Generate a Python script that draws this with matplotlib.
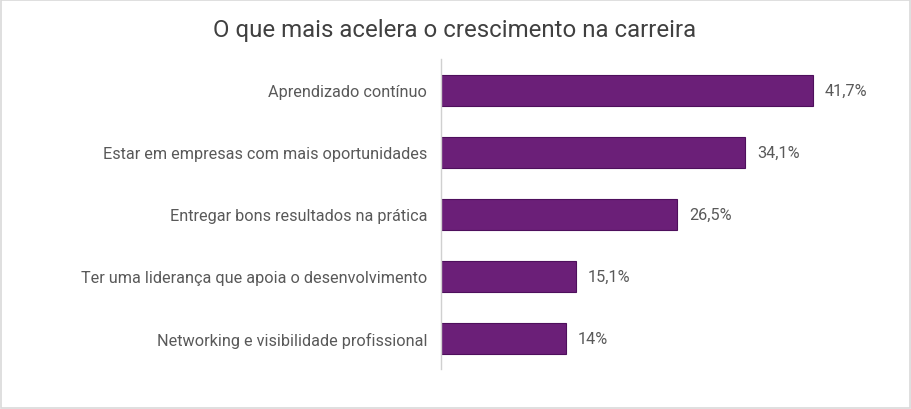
import matplotlib.pyplot as plt
from matplotlib.patches import Rectangle

plt.rcParams["font.family"] = ["Roboto", "DejaVu Sans"]

# -------------------------
# Data
# -------------------------
categories = [
    "Aprendizado contínuo",
    "Estar em empresas com mais oportunidades",
    "Entregar bons resultados na prática",
    "Ter uma liderança que apoia o desenvolvimento",
    "Networking e visibilidade profissional",
]
values = [41.7, 34.1, 26.5, 15.1, 14.0]
value_labels = ["41,7%", "34,1%", "26,5%", "15,1%", "14%"]

# -------------------------
# Plot
# -------------------------
fig = plt.figure(figsize=(9.12, 4.10), dpi=100)
ax = fig.add_axes([441 / 912, 40 / 410, 428 / 912, 310 / 410])

y = list(range(len(categories)))
ax.barh(y, values, height=0.5, color="#6B1F78", edgecolor="#4E0F5C", linewidth=0.8)

ax.set_ylim(len(categories) - 0.5, -0.5)
ax.set_xlim(0, 48)

for yi, v, lab in zip(y, values, value_labels):
    ax.text(v + 1.35, yi, lab, va="center", ha="left", fontsize=11.7, color="#595959")

ax.set_yticks(y)
ax.set_yticklabels(categories, fontsize=11.7, color="#595959")
ax.tick_params(axis="y", length=0, pad=10)
ax.set_xticks([])

for side in ["top", "right", "bottom"]:
    ax.spines[side].set_visible(False)
ax.spines["left"].set_color("#D0D0D0")
ax.spines["left"].set_linewidth(1)

fig.text(455 / 912, 1 - 31 / 410, "O que mais acelera o crescimento na carreira",
         ha="center", va="center", fontsize=17.3, color="#404040")

# light border around the figure
fig.patches.append(Rectangle((0.001, 0.002), 0.997, 0.996, transform=fig.transFigure,
                             fill=False, edgecolor="#D9D9D9", linewidth=1.2))

plt.savefig("out.png", dpi=100)
